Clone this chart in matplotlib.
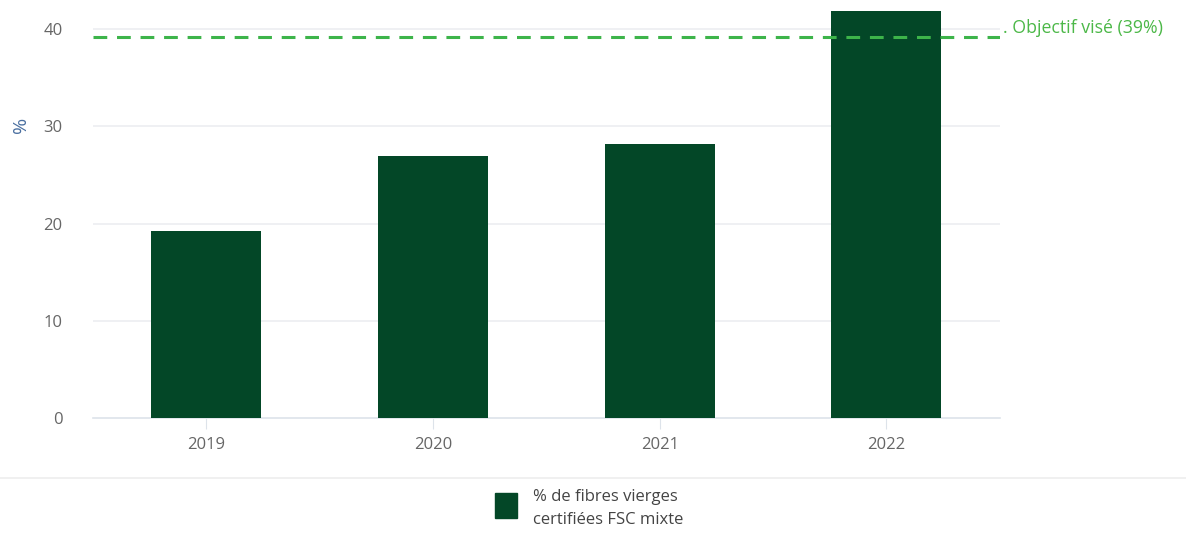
import matplotlib
matplotlib.use("Agg")
import matplotlib.pyplot as plt
from matplotlib.patches import Rectangle
from matplotlib.lines import Line2D

years = ["2019", "2020", "2021", "2022"]
share = [19.2, 27.0, 28.2, 41.9]
target = 39.2
target_label = "Objectif visé (39%)"
legend_label = "% de fibres vierges\ncertifiées FSC mixte"
y_ticks = [0, 10, 20, 30, 40]

plt.rcParams['font.family'] = ['Open Sans', 'DejaVu Sans']

fig = plt.figure(figsize=(11.86, 5.39), dpi=100)
ax = fig.add_axes([0.0784, 0.2245, 0.7646, 0.7575])

bar_color = '#034727'
ax.bar(range(len(years)), share, width=0.485, color=bar_color, zorder=3)

# gridlines
for t in y_ticks[1:]:
    ax.axhline(t, color='#eceef1', lw=1.2, zorder=1)

# target line
ax.axhline(target, color='#3db44a', lw=2.2, ls=(0, (4.5, 3.2)), zorder=4)
ax.text(1.003, target, ". " + target_label, transform=ax.get_yaxis_transform(),
        color='#4cb848', fontsize=12.8, va='bottom', ha='left')

ax.set_xlim(-0.5, 3.5)
ax.set_ylim(0, 42)
ax.set_xticks(range(len(years)))
ax.set_xticklabels(years)
ax.set_yticks(y_ticks)
for s in ['top', 'right', 'left']:
    ax.spines[s].set_visible(False)
ax.spines['bottom'].set_color('#dde3ea')
ax.spines['bottom'].set_linewidth(1.2)
ax.tick_params(axis='y', length=0, pad=22, labelsize=12, labelcolor='#666666')
ax.tick_params(axis='x', length=8, color='#dde3ea', pad=6, labelsize=12, labelcolor='#666666')
ax.set_ylabel('%', color='#4a6fa0', fontsize=14)
ax.yaxis.set_label_coords(-0.07, 0.717)

# separator line and legend
fig.add_artist(Line2D([0, 1], [1 - 478 / 539] * 2, color='#eeeeee', lw=1.2))
fig.add_artist(Rectangle((495 / 1186, 1 - 518 / 539), 22 / 1186, 25 / 539,
                         color=bar_color, transform=fig.transFigure))
fig.text(533 / 1186, 1 - 489 / 539, legend_label, fontsize=12, color='#444444',
         va='top', ha='left', linespacing=1.55)

fig.savefig('out.png', dpi=100)
